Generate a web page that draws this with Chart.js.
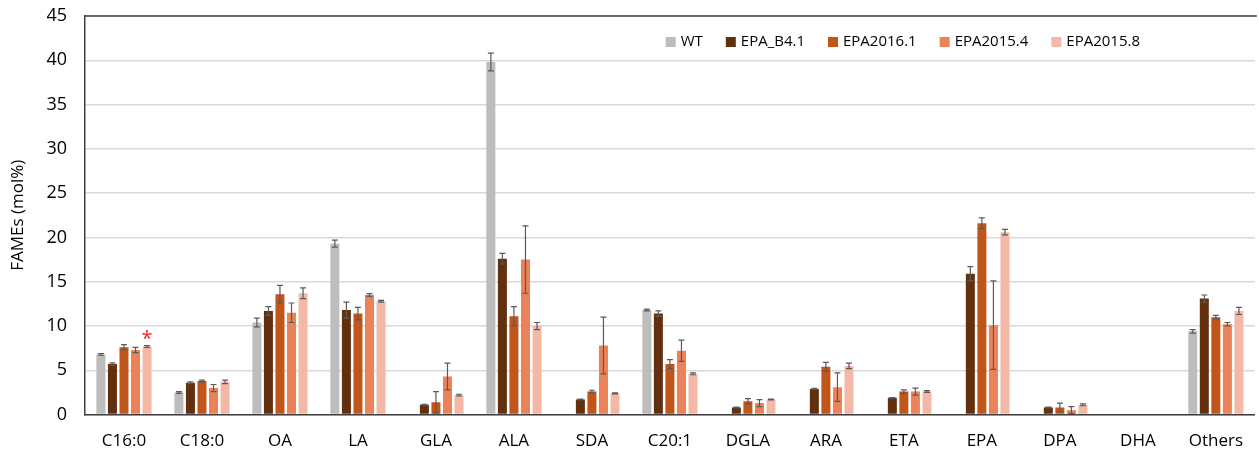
<!DOCTYPE html>
<html lang="en">
<head>
    <meta charset="UTF-8">
    <title>FAMEs (mol%)</title>
    <script src="https://cdn.jsdelivr.net/npm/chart.js"></script>
    <style>
        body { margin: 0; background: #fff; }
    </style>
</head>
<body>

<div style="width: 1259px; height: 452px;">
    <canvas id="chart"></canvas>
</div>

<script>
    // Fatty acids on the x axis
    const categories = ['C16:0', 'C18:0', 'OA', 'LA', 'GLA', 'ALA', 'SDA', 'C20:1', 'DGLA', 'ARA', 'ETA', 'EPA', 'DPA', 'DHA', 'Others'];
    const seriesNames = ['WT', 'EPA_B4.1', 'EPA2016.1', 'EPA2015.4', 'EPA2015.8'];
    const seriesColors = ['#BDBDBD', '#63300F', '#C0561A', '#EB8259', '#F3B8A6'];

    // mean values (mol%)
    const wt       = [6.8, 2.5, 10.4, 19.3, 0, 39.8, 0, 11.8, 0, 0, 0, 0, 0, 0, 9.4];
    const b41      = [5.7, 3.6, 11.7, 11.8, 1.1, 17.6, 1.7, 11.4, 0.8, 2.9, 1.9, 15.9, 0.8, 0, 13.1];
    const e20161   = [7.6, 3.8, 13.6, 11.4, 1.4, 11.1, 2.6, 5.7, 1.5, 5.4, 2.6, 21.6, 0.8, 0, 11.0];
    const e20154   = [7.3, 3.0, 11.5, 13.5, 4.3, 17.5, 7.8, 7.2, 1.3, 3.1, 2.6, 10.1, 0.5, 0, 10.2];
    const e20158   = [7.7, 3.7, 13.7, 12.8, 2.2, 10.0, 2.4, 4.6, 1.7, 5.5, 2.6, 20.6, 1.1, 0, 11.7];

    // standard deviations
    const wtErr     = [0.1, 0.1, 0.5, 0.4, 0, 1.0, 0, 0.1, 0, 0, 0, 0, 0, 0, 0.2];
    const b41Err    = [0.15, 0.1, 0.5, 0.9, 0.05, 0.6, 0.05, 0.3, 0.05, 0.05, 0.03, 0.8, 0.05, 0, 0.4];
    const e20161Err = [0.3, 0.1, 1.0, 0.7, 1.2, 1.1, 0.15, 0.5, 0.3, 0.5, 0.2, 0.6, 0.5, 0, 0.2];
    const e20154Err = [0.3, 0.4, 1.1, 0.15, 1.5, 3.8, 3.2, 1.2, 0.4, 1.6, 0.4, 5.0, 0.4, 0, 0.2];
    const e20158Err = [0.1, 0.2, 0.6, 0.1, 0.1, 0.4, 0.05, 0.1, 0.05, 0.3, 0.1, 0.3, 0.1, 0, 0.4];

    const yTicks = [0, 5, 10, 15, 20, 25, 30, 35, 40, 45];

    // significance mark: [series index, category index]
    const stars = [[4, 0]];

    const values = [wt, b41, e20161, e20154, e20158];
    const errors = [wtErr, b41Err, e20161Err, e20154Err, e20158Err];

    const fontFamily = "'Open Sans', 'Noto Sans', sans-serif";

    // error bars, star, top frame line and the legend inside the plot
    const extras = {
        id: 'extras',
        afterDatasetsDraw(chart) {
            const ctx = chart.ctx;
            const y = chart.scales.y;
            const area = chart.chartArea;
            ctx.save();
            ctx.strokeStyle = '#5a5a5a';
            ctx.lineWidth = 1.2;
            chart.data.datasets.forEach((ds, i) => {
                const meta = chart.getDatasetMeta(i);
                meta.data.forEach((bar, j) => {
                    const err = errors[i][j];
                    if (!err || !values[i][j]) return;
                    const v = values[i][j];
                    const top = y.getPixelForValue(v + err);
                    const bot = y.getPixelForValue(v - err);
                    ctx.beginPath();
                    ctx.moveTo(bar.x, top); ctx.lineTo(bar.x, bot);
                    ctx.moveTo(bar.x - 3, top); ctx.lineTo(bar.x + 3, top);
                    ctx.moveTo(bar.x - 3, bot); ctx.lineTo(bar.x + 3, bot);
                    ctx.stroke();
                });
            });

            ctx.fillStyle = '#ff2020';
            ctx.font = '20px ' + fontFamily;
            ctx.textAlign = 'center';
            ctx.textBaseline = 'middle';
            stars.forEach(([i, j]) => {
                const bar = chart.getDatasetMeta(i).data[j];
                const top = y.getPixelForValue(values[i][j] + errors[i][j]);
                ctx.fillText('*', bar.x, top - 6);
            });

            ctx.strokeStyle = '#404040';
            ctx.lineWidth = 1.5;
            ctx.beginPath();
            ctx.moveTo(area.left, area.top);
            ctx.lineTo(area.right + 2, area.top);
            ctx.stroke();

            // legend, laid out from the right
            ctx.font = '15px ' + fontFamily;
            ctx.textAlign = 'left';
            ctx.textBaseline = 'middle';
            const ly = area.top + 26;
            let x = 1140;
            for (let i = seriesNames.length - 1; i >= 0; i--) {
                const w = ctx.measureText(seriesNames[i]).width;
                x -= w;
                ctx.fillStyle = '#000';
                ctx.fillText(seriesNames[i], x, ly);
                x -= 15;
                ctx.fillStyle = seriesColors[i];
                ctx.fillRect(x, ly - 5, 10, 10);
                x -= 23;
            }
            ctx.restore();
        }
    };

    const ctx = document.getElementById('chart').getContext('2d');
    new Chart(ctx, {
        type: 'bar',
        data: {
            labels: categories,
            datasets: seriesNames.map((name, i) => ({
                label: name,
                data: values[i],
                backgroundColor: seriesColors[i],
                categoryPercentage: 0.74,
                barPercentage: 0.78
            }))
        },
        options: {
            responsive: true,
            maintainAspectRatio: false,
            animation: false,
            layout: {
                padding: { left: 0, right: 0, top: 16, bottom: -15 }
            },
            scales: {
                x: {
                    grid: { display: false, drawTicks: false },
                    border: { display: true, color: '#404040', width: 1.5 },
                    ticks: {
                        color: '#000',
                        padding: 16,
                        font: { family: fontFamily, size: 17 }
                    }
                },
                y: {
                    min: 0,
                    max: 45,
                    afterBuildTicks: axis => { axis.ticks = yTicks.map(v => ({ value: v })); },
                    // tick padding is meant to be horizontal only
                    afterFit: axis => { axis.paddingTop = 10; axis.paddingBottom = 10; },
                    grid: { color: '#D9D9D9', lineWidth: 1.5, drawTicks: false },
                    border: { display: true, color: '#404040', width: 1.5 },
                    ticks: {
                        color: '#000',
                        padding: 18,
                        font: { family: fontFamily, size: 18 }
                    },
                    title: {
                        display: true,
                        text: 'FAMEs (mol%)',
                        color: '#000',
                        padding: { top: 8, bottom: 0 },
                        font: { family: fontFamily, size: 17 }
                    }
                }
            },
            plugins: {
                legend: { display: false },
                tooltip: { enabled: false }
            }
        },
        plugins: [extras]
    });
</script>
</body>
</html>
